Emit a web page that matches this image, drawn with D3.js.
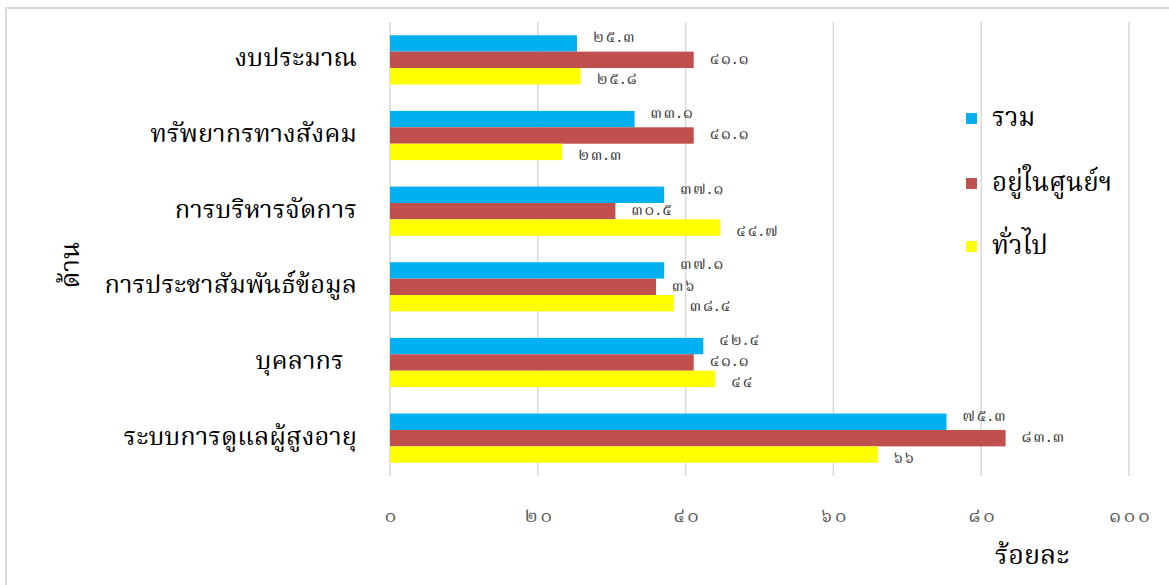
<!DOCTYPE html>
<html>
<head>
<meta charset="utf-8">
<script src="https://cdn.jsdelivr.net/npm/d3@7"></script>
<style>
  html, body { margin: 0; padding: 0; background: #fff; }
  svg { display: block; }
  text { font-family: "Noto Serif Thai", "Norasi", "Kinnari", "Garuda", "Loma", "Noto Sans Thai", "Tahoma", sans-serif; }
</style>
</head>
<body>
<svg id="chart" width="1169" height="585"></svg>
<script>
// Categories (top to bottom) and the three series, in percent
const categories = [
  "งบประมาณ",
  "ทรัพยากรทางสังคม",
  "การบริหารจัดการ",
  "การประชาสัมพันธ์ข้อมูล",
  "บุคลากร  ",
  "ระบบการดูแลผู้สูงอายุ"
];
const seriesNames = ["รวม", "อยู่ในศูนย์ฯ", "ทั่วไป"];
const totalValues    = [25.3, 33.1, 37.1, 37.1, 42.4, 75.3];
const inCenterValues = [41.1, 41.1, 30.5, 36, 41.1, 83.3];
const generalValues  = [25.8, 23.3, 44.7, 38.4, 44, 66];
const xTicks = [0, 20, 40, 60, 80, 100];
const seriesColors = ["#00b0f0", "#c0504d", "#ffff00"];

const seriesValues = [totalValues, inCenterValues, generalValues];

// Western digits to Thai digits
const thaiDigits = "๐๑๒๓๔๕๖๗๘๙";
const toThai = v => String(v).replace(/[0-9]/g, d => thaiDigits[+d]);

const svg = d3.select("#chart");

// Outer frame
svg.append("line").attr("x1", 5).attr("x2", 1169).attr("y1", 8).attr("y2", 8)
  .attr("stroke", "#d9d9d9").attr("stroke-width", 2);
svg.append("line").attr("x1", 6).attr("x2", 6).attr("y1", 8).attr("y2", 585)
  .attr("stroke", "#d9d9d9").attr("stroke-width", 2);

const plot = { left: 390, right: 1129, top: 22, bottom: 476 };

const x = d3.scaleLinear().domain([0, 100]).range([plot.left, plot.right]);
const y = d3.scaleBand().domain(categories).range([plot.top, plot.bottom])
  .paddingInner(0.35).paddingOuter(0.175);
const ySub = d3.scaleBand().domain(d3.range(seriesNames.length)).range([0, y.bandwidth()]);

// Vertical gridlines
svg.append("g").selectAll("line").data(xTicks).join("line")
  .attr("x1", d => x(d)).attr("x2", d => x(d))
  .attr("y1", plot.top).attr("y2", plot.bottom)
  .attr("stroke", "#d9d9d9").attr("stroke-width", 1.5);

// X axis tick labels (Thai digits)
const xAxis = d3.axisBottom(x).tickValues(xTicks).tickFormat(toThai).tickSize(0).tickPadding(0);
const gx = svg.append("g").attr("transform", `translate(0, ${plot.bottom + 32})`).call(xAxis);
gx.select(".domain").remove();
gx.selectAll("text").attr("fill", "#595959")
  .style("font-size", "19px").style("letter-spacing", "3px")
  .attr("dx", "1.5px");

// Category labels
svg.append("g").selectAll("text").data(categories).join("text")
  .attr("x", 357)
  .attr("y", d => y(d) + y.bandwidth() / 2)
  .attr("text-anchor", "end")
  .attr("dominant-baseline", "central")
  .attr("fill", "#000")
  .style("font-size", "25.5px")
  .style("white-space", "pre")
  .text(d => d);

// Bars
const groups = svg.append("g").selectAll("g").data(categories).join("g")
  .attr("transform", d => `translate(0, ${y(d)})`);

seriesNames.forEach((name, si) => {
  groups.append("rect")
    .attr("x", x(0))
    .attr("y", ySub(si))
    .attr("width", (d, ci) => x(seriesValues[si][ci]) - x(0))
    .attr("height", ySub.bandwidth())
    .attr("fill", seriesColors[si]);
});

// Value labels, spread slightly apart vertically
const labelShift = [-5, 0, 4];
seriesNames.forEach((name, si) => {
  groups.append("text")
    .attr("x", (d, ci) => x(seriesValues[si][ci]) + 16)
    .attr("y", ySub(si) + ySub.bandwidth() / 2 + labelShift[si])
    .attr("dominant-baseline", "central")
    .attr("fill", "#404040")
    .style("font-size", "16px")
    .style("letter-spacing", "2px")
    .text((d, ci) => toThai(seriesValues[si][ci]));
});

// Legend
const legendY = [119, 184, 247];
const legend = svg.append("g").selectAll("g").data(seriesNames).join("g")
  .attr("transform", (d, i) => `translate(966, ${legendY[i]})`);
legend.append("rect").attr("x", 0).attr("y", -6).attr("width", 11).attr("height", 11)
  .attr("fill", (d, i) => seriesColors[i]);
legend.append("text").attr("x", 26).attr("y", 0)
  .attr("dominant-baseline", "central")
  .attr("fill", "#000").style("font-size", "26px")
  .text(d => d);

// Axis titles
svg.append("text").attr("x", 1032).attr("y", 556)
  .attr("text-anchor", "middle").attr("dominant-baseline", "central")
  .attr("fill", "#000").style("font-size", "27px").text("ร้อยละ");
svg.append("text")
  .attr("transform", "translate(72, 265) rotate(-90)")
  .attr("text-anchor", "middle").attr("dominant-baseline", "central")
  .attr("fill", "#000").style("font-size", "26px").text("ด้าน");
</script>
</body>
</html>
